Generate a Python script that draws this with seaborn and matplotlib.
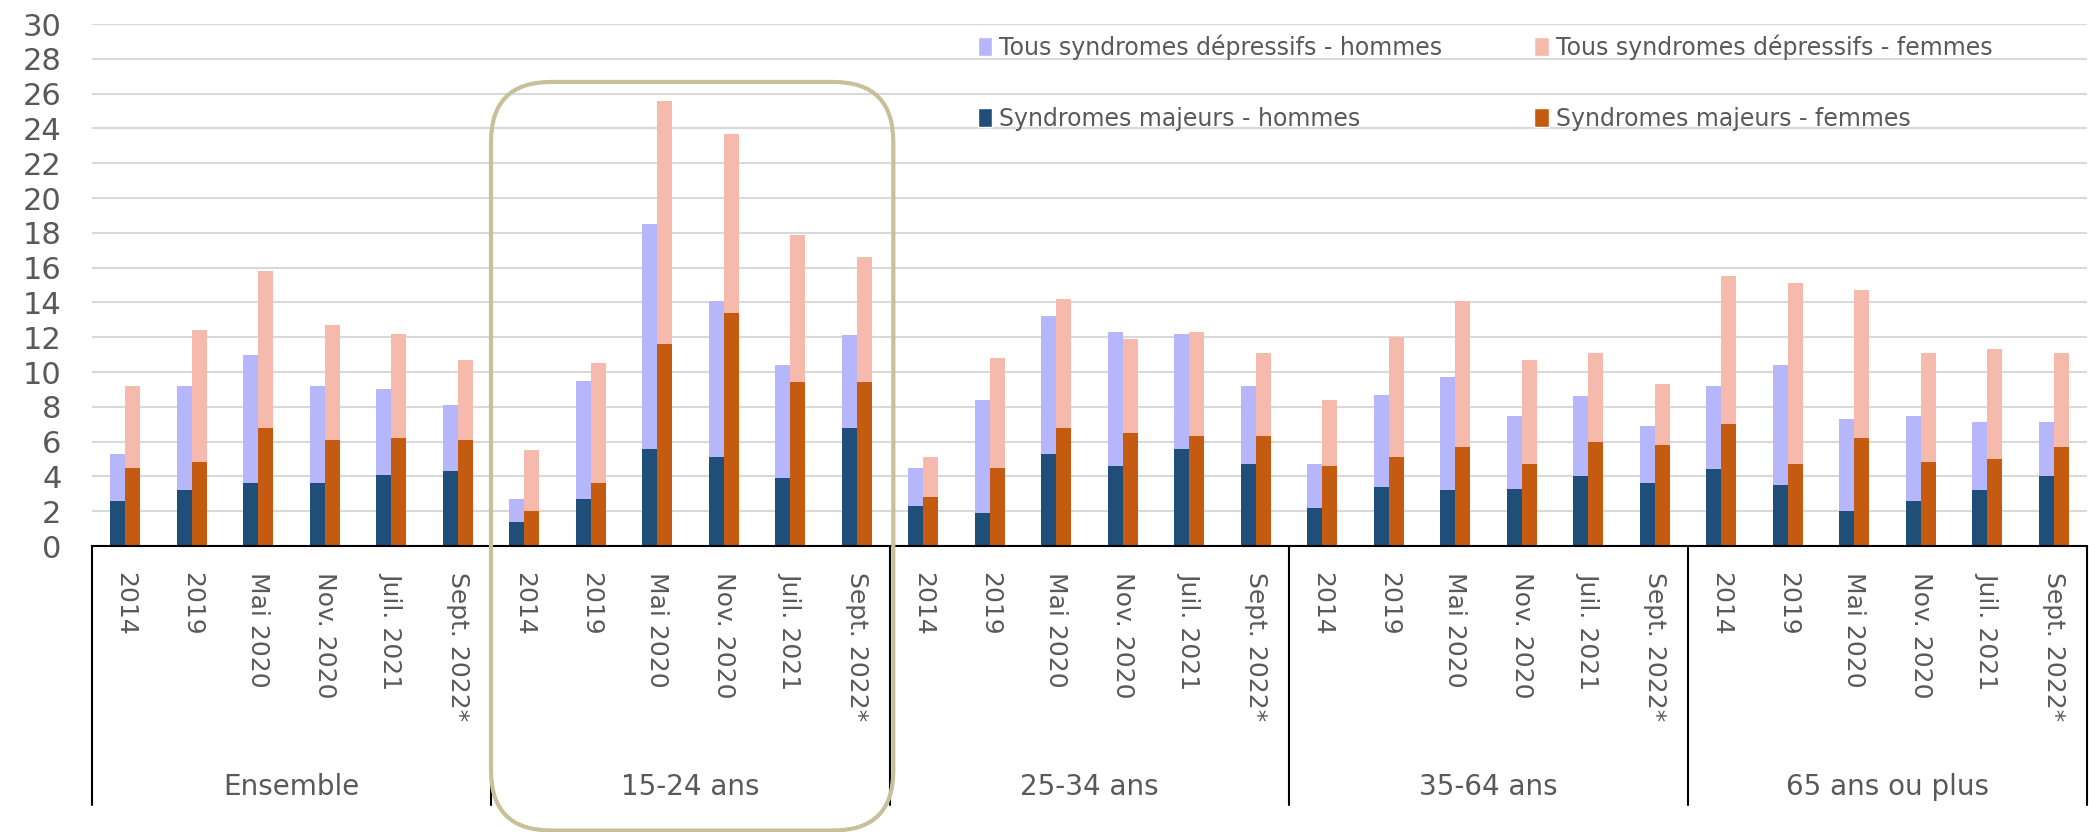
import pandas as pd
import matplotlib
matplotlib.use("Agg")
import matplotlib.pyplot as plt
import seaborn as sns
from matplotlib.patches import Patch, FancyBboxPatch
from matplotlib.transforms import IdentityTransform

# ---- data (%) ----
GROUPES = ["Ensemble", "15-24 ans", "25-34 ans", "35-64 ans", "65 ans ou plus"]
PERIODES = ["2014", "2019", "Mai 2020", "Nov. 2020", "Juil. 2021", "Sept. 2022*"]

# one value per group x period, groups in the order above
TOUS_HOMMES = [5.3, 9.2, 11.0, 9.2, 9.0, 8.1,
               2.7, 9.5, 18.5, 14.1, 10.4, 12.1,
               4.5, 8.4, 13.2, 12.3, 12.2, 9.2,
               4.7, 8.7, 9.7, 7.5, 8.6, 6.9,
               9.2, 10.4, 7.3, 7.5, 7.1, 7.1]
TOUS_FEMMES = [9.2, 12.4, 15.8, 12.7, 12.2, 10.7,
               5.5, 10.5, 25.6, 23.7, 17.9, 16.6,
               5.1, 10.8, 14.2, 11.9, 12.3, 11.1,
               8.4, 12.0, 14.1, 10.7, 11.1, 9.3,
               15.5, 15.1, 14.7, 11.1, 11.3, 11.1]
MAJ_HOMMES = [2.6, 3.2, 3.6, 3.6, 4.1, 4.3,
              1.4, 2.7, 5.6, 5.1, 3.9, 6.8,
              2.3, 1.9, 5.3, 4.6, 5.6, 4.7,
              2.2, 3.4, 3.2, 3.3, 4.0, 3.6,
              4.4, 3.5, 2.0, 2.6, 3.2, 4.0]
MAJ_FEMMES = [4.5, 4.8, 6.8, 6.1, 6.2, 6.1,
              2.0, 3.6, 11.6, 13.4, 9.4, 9.4,
              2.8, 4.5, 6.8, 6.5, 6.3, 6.3,
              4.6, 5.1, 5.7, 4.7, 6.0, 5.8,
              7.0, 4.7, 6.2, 4.8, 5.0, 5.7]

LEGENDE = ["Tous syndromes dépressifs - hommes", "Syndromes majeurs - hommes",
           "Tous syndromes dépressifs - femmes", "Syndromes majeurs - femmes"]

# colours
LAVANDE = "#b6b6fb"
ROSE = "#f6baad"
BLEU = "#1f4e79"
ORANGE = "#c55a11"
GRIS = "#595959"
CADRE = "#c8c09a"

# ---- long table for seaborn ----
rows = []
ordre = []
for i, g in enumerate(GROUPES):
    for j, p in enumerate(PERIODES):
        k = i * len(PERIODES) + j
        cle = f"{g} | {p}"
        ordre.append(cle)
        rows.append({"cle": cle, "sexe": "Hommes", "tous": TOUS_HOMMES[k], "majeurs": MAJ_HOMMES[k]})
        rows.append({"cle": cle, "sexe": "Femmes", "tous": TOUS_FEMMES[k], "majeurs": MAJ_FEMMES[k]})
df = pd.DataFrame(rows)

sns.set_style("white")
plt.rcParams["font.family"] = ["DejaVu Sans"]

W, H = 2089, 832
fig, ax = plt.subplots(figsize=(W / 100, H / 100), dpi=100)
fig.subplots_adjust(left=92 / W, right=2087 / W, bottom=(H - 546) / H, top=(H - 24) / H)

# light bars (all depressive syndromes) behind, dark bars (major) in front
sns.barplot(data=df, x="cle", y="tous", hue="sexe", order=ordre,
            hue_order=["Hommes", "Femmes"], palette={"Hommes": LAVANDE, "Femmes": ROSE},
            width=0.45, saturation=1, errorbar=None, legend=False, linewidth=0, ax=ax)
sns.barplot(data=df, x="cle", y="majeurs", hue="sexe", order=ordre,
            hue_order=["Hommes", "Femmes"], palette={"Hommes": BLEU, "Femmes": ORANGE},
            width=0.45, saturation=1, errorbar=None, legend=False, linewidth=0, ax=ax)

n = len(ordre)
ax.set_xlim(-0.5, n - 0.5)
ax.set_ylim(0, 30)
ax.set_yticks(range(0, 31, 2))
ax.set_xticks(range(n))
ax.set_xticklabels(PERIODES * len(GROUPES), rotation=270, va="top", ha="center")
ax.set_xlabel("")
ax.set_ylabel("")
ax.grid(axis="y", color="#d9d9d9", lw=1.5)
ax.grid(axis="x", visible=False)
ax.set_axisbelow(True)
for s in ["top", "right", "left"]:
    ax.spines[s].set_visible(False)
ax.spines["bottom"].set_color("black")
ax.spines["bottom"].set_linewidth(1.5)
ax.tick_params(axis="y", length=0, labelsize=22, labelcolor=GRIS, pad=22)
ax.tick_params(axis="x", length=0, labelsize=18, labelcolor=GRIS, pad=19)

# group labels and separators of the two-level category axis
tr = ax.get_xaxis_transform()
np_ = len(PERIODES)
for i, g in enumerate(GROUPES):
    ax.text(i * np_ + (np_ - 1) / 2, -0.462, g, transform=tr, ha="center", va="center",
            fontsize=20, color=GRIS)
for i in range(len(GROUPES) + 1):
    b = i * np_ - 0.5
    ax.plot([b, b], [0, -0.496], transform=tr, color="black", lw=1.5, clip_on=False)

# rounded frame around 15-24 ans
x0, y0 = tr.transform((np_ - 0.5, -0.545))
x1, y1 = tr.transform((2 * np_ - 0.45, 0.889))
fig.add_artist(FancyBboxPatch((x0, y0), x1 - x0, y1 - y0,
                              boxstyle="round,pad=0,rounding_size=60",
                              transform=IdentityTransform(), fill=False,
                              ec=CADRE, lw=3, clip_on=False, zorder=5))

# legend
handles = [Patch(fc=LAVANDE), Patch(fc=BLEU), Patch(fc=ROSE), Patch(fc=ORANGE)]
fig.legend(handles, LEGENDE, loc="upper left", bbox_to_anchor=(978 / W, 1 - 34 / H),
           ncol=2, frameon=False, fontsize=17, labelcolor=GRIS,
           handlelength=0.6, handleheight=0.9, handletextpad=0.3,
           labelspacing=2.0, columnspacing=3.9, borderpad=0, borderaxespad=0)

fig.savefig("out.png", dpi=100)
